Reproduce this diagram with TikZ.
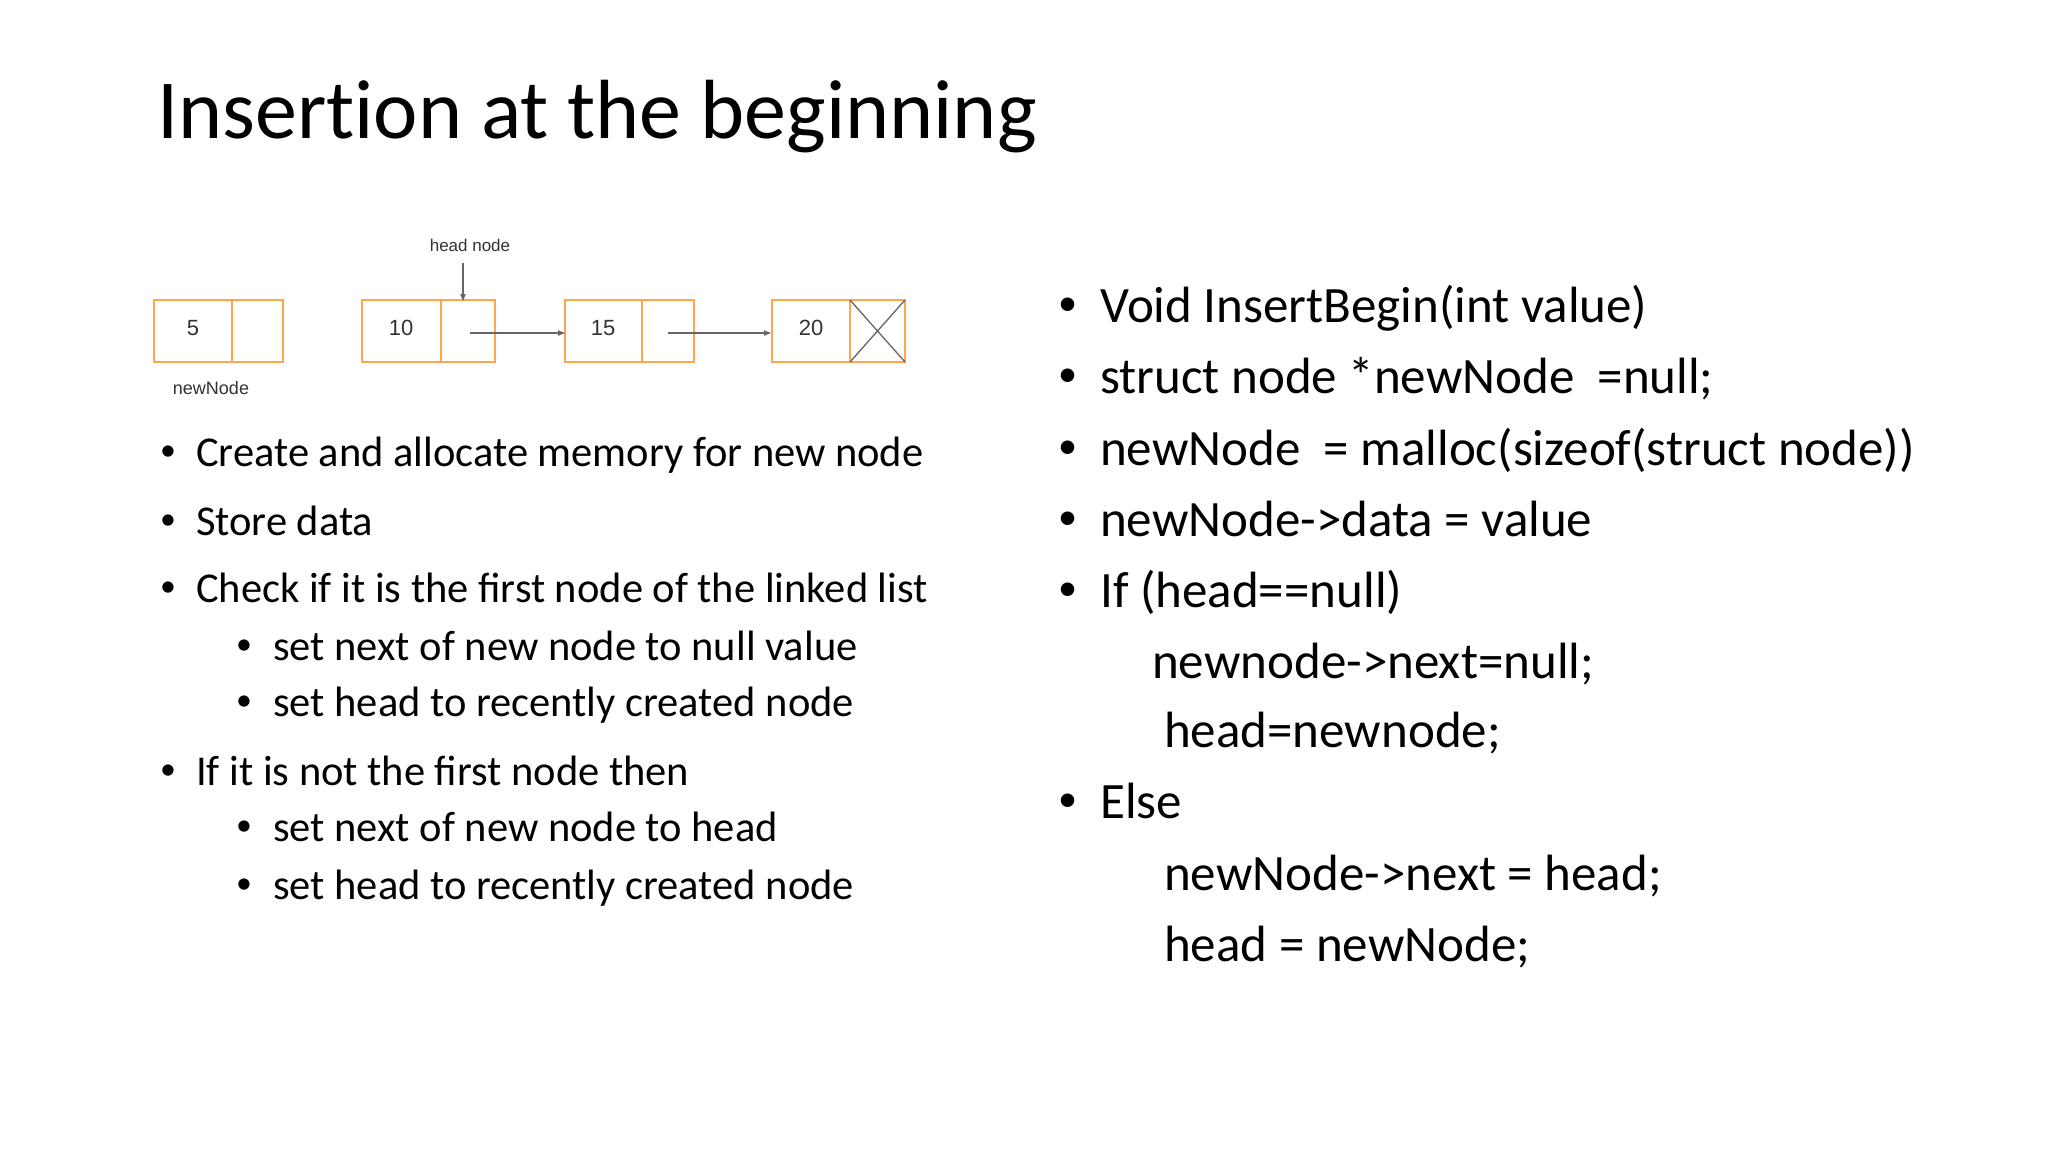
\documentclass[tikz,border=0pt]{standalone}
\usepackage{fontspec}
\setmainfont{Carlito}
\newfontfamily\diag{Liberation Sans}
\usetikzlibrary{arrows.meta}
\newcommand{\mybul}{\raisebox{0.12em}{\scalebox{0.75}{\textbullet}}}
\begin{document}
\begin{tikzpicture}[x=1pt,y=-1pt,
  cell/.style={draw=orange!70!white,line width=1.5pt},
  lnk/.style={draw=gray!80!black,line width=1.5pt,-{Latex[length=8pt,width=6pt]}},
  dtxt/.style={font=\diag\fontsize{22}{26}\selectfont,text=black!80},
  ltxt/.style={anchor=base west,inner sep=0pt,font=\fontsize{42.5}{48}\selectfont},
  rtxt/.style={anchor=base west,inner sep=0pt,font=\fontsize{51}{60}\selectfont}]
\useasboundingbox (0,0) rectangle (2048,1152);
\fill[white] (0,0) rectangle (2048,1152);
\node[anchor=base west,inner sep=0pt,font=\fontsize{84}{96}\selectfont\addfontfeature{Ligatures=NoCommon}] (title) at (157,138) {Insertion at the beginning};
% boxes
\draw[cell] (154,300) rectangle (283,362); \draw[cell] (232,300) -- (232,362);
\draw[cell] (362,300) rectangle (495,362); \draw[cell] (441,300) -- (441,362);
\draw[cell] (565,300) rectangle (694,362); \draw[cell] (642,300) -- (642,362);
\draw[cell] (772,300) rectangle (905,362); \draw[cell] (850,300) -- (850,362);
\draw[gray!80!black,line width=1.3pt] (850,300) -- (905,362) (850,362) -- (905,300);
\node[dtxt,anchor=base] (n5) at (193,335) {5};
\node[dtxt,anchor=base] (n10) at (401,335) {10};
\node[dtxt,anchor=base] (n15) at (603,335) {15};
\node[dtxt,anchor=base] (n20) at (811,335) {20};
\coordinate (a1s) at (470,333); \coordinate (a1e) at (566,333);
\coordinate (a2s) at (668,333); \coordinate (a2e) at (772,333);
\draw[lnk] (a1s) -- (a1e);
\draw[lnk] (a2s) -- (a2e);
\node[dtxt,font=\diag\fontsize{17}{20}\selectfont] (hn) at (470,245) {head node};
\coordinate (hp) at (463,302);
\coordinate (ht) at (463,263);
\draw[lnk,line width=1.2pt] (ht) -- (hp);
\node[dtxt,font=\diag\fontsize{18}{22}\selectfont] (nn) at (211,388) {newNode};
% left bullets
\foreach \y/\t [count=\i] in {466/Create and allocate memory for new node,535/Store data,602/Check if it is the first node of the linked list,785/If it is not the first node then}
  {\node[ltxt] (lb\i) at (160,\y) {\mybul}; \node[ltxt] (lt\i) at (196,\y) {\t};}
\foreach \y/\t [count=\i] in {660/set next of new node to null value,716/set head to recently created node,841/set next of new node to head,899/set head to recently created node}
  {\node[ltxt] (sb\i) at (236,\y) {\mybul}; \node[ltxt] (st\i) at (273,\y) {\t};}
% right
\foreach \y/\t [count=\i] in {322/Void InsertBegin(int value),393/struct node *newNode\ \ =null;,465/newNode\ \ = malloc(sizeof(struct node)),536/newNode->data = value,607/If (head==null),818/Else}
  {\node[rtxt] (rb\i) at (1058,\y) {\mybul}; \node[rtxt] (rt\i) at (1100,\y) {\t};}
\node[rtxt] (c1) at (1152,678) {newnode->next=null;};
\node[rtxt] (c2) at (1164,747) {head=newnode;};
\node[rtxt] (c3) at (1164,890) {newNode->next = head;};
\node[rtxt] (c4) at (1164,961) {head = newNode;};
\end{tikzpicture}
\end{document}
